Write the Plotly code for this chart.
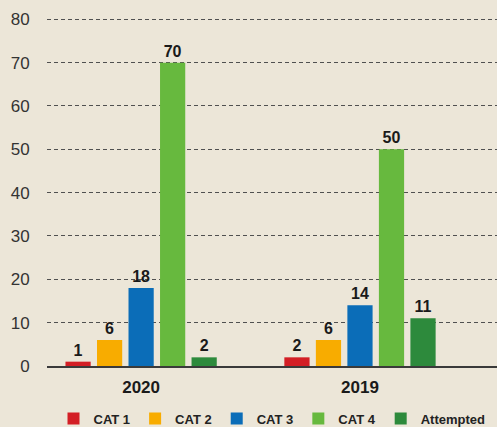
import plotly.graph_objects as go

years = ["2020", "2019"]
series_names = ["CAT 1", "CAT 2", "CAT 3", "CAT 4", "Attempted"]
cat1 = [1, 2]
cat2 = [6, 6]
cat3 = [18, 14]
cat4 = [70, 50]
attempted = [2, 11]
colors = ["#d31e25", "#f8ac00", "#0b6db8", "#67b93e", "#2d8a3c"]
y_ticks = [0, 10, 20, 30, 40, 50, 60, 70, 80]

values = [cat1, cat2, cat3, cat4, attempted]

fig = go.Figure()
for name, vals, col in zip(series_names, values, colors):
    fig.add_trace(go.Bar(
        x=years, y=vals, name=name, marker_color=col, marker_line_width=0,
        text=[str(v) for v in vals], textposition="outside", cliponaxis=False,
        textfont=dict(family="Liberation Sans, Arial", size=16, color="#1a1a1a", weight="bold"),
    ))

fig.update_layout(
    width=497, height=427,
    margin=dict(l=47, r=0, t=18, b=61, autoexpand=False),
    paper_bgcolor="#ece6d8", plot_bgcolor="rgba(0,0,0,0)",
    barmode="group", bargap=0.28, bargroupgap=0.2,
    font=dict(family="Liberation Sans, Arial", color="#333333"),
    showlegend=True,
    legend=dict(orientation="h", x=0.5, xanchor="center",
                y=-0.108, yanchor="top",
                font=dict(size=13, color="#222222", weight="bold"),
                itemwidth=30, traceorder="normal", bgcolor="rgba(0,0,0,0)"),
    xaxis=dict(range=[-0.43, 1.626], showgrid=False, showline=True, linecolor="#3a3a3a",
               linewidth=2, ticks="outside", ticklen=5, tickcolor="rgba(0,0,0,0)",
               tickfont=dict(size=17, color="#1a1a1a", weight="bold"), zeroline=False),
    yaxis=dict(range=[0, 80.3], tickvals=y_ticks, showgrid=True, gridcolor="#505050",
               griddash="4px,3px", gridwidth=1, zeroline=False, showline=False,
               ticks="outside", ticklen=13, tickcolor="rgba(0,0,0,0)",
               tickfont=dict(size=17, color="#333333")),
)

fig.write_html("out.html")
